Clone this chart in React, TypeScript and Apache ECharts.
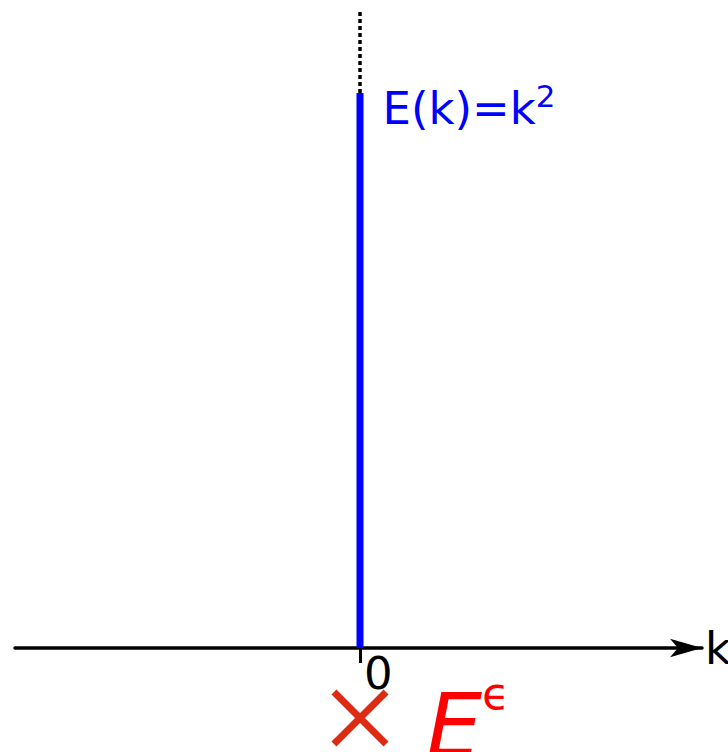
import { useEffect, useRef } from "react";
import * as echarts from "echarts";

// Axis extents (k horizontally, E vertically)
const kRange = [-1.0088, 1];
const energyRange = [0, 1.15];

// Dispersion line E(k)=k² drawn at k = 0 up to the label point, then dashed beyond
const dispersionLine = [
  [0, 0],
  [0, 1],
];
const continuationLine = [
  [0, 1],
  [0, 1.15],
];
const curveLabelPoint = [[0, 1]];

// Pole marker below the k axis
const polePoint = [[0, -0.126]];

// Tick values on the k axis
const kTicks = [0];

const FONT = "DejaVu Sans";

// A filled "×" outline in a 100×100 box
const CROSS_PATH =
  "path://M8.7,0 L100,91.3 L91.3,100 L0,8.7 Z M91.3,0 L100,8.7 L8.7,100 L0,91.3 Z";

export default function App() {
  const ref = useRef<HTMLDivElement>(null);

  useEffect(() => {
    document.body.style.margin = "0";
    if (!ref.current) return;
    const chart = echarts.init(ref.current, null, { renderer: "svg" });
    chart.setOption({
      animation: false,
      backgroundColor: "#ffffff",
      grid: {
        left: 15,
        width: 687,
        top: 9.75,
        height: 638.25,
        containLabel: false,
        outerBoundsMode: "none",
      },
      xAxis: {
        type: "value",
        min: kRange[0],
        max: kRange[1],
        name: "k",
        nameLocation: "end",
        nameGap: 3,
        nameTextStyle: { color: "#000", fontSize: 45, fontFamily: FONT },
        axisLine: {
          onZero: false,
          symbol: ["none", "arrow"],
          symbolSize: [14, 32],
          lineStyle: { color: "#000", width: 3.5 },
        },
        axisTick: {
          show: true,
          customValues: kTicks,
          length: 15,
          lineStyle: { color: "#000", width: 3 },
        },
        axisLabel: {
          show: true,
          customValues: kTicks,
          color: "#000",
          fontSize: 45,
          fontFamily: FONT,
          align: "left",
          margin: 3,
          padding: [0, 0, 0, 4],
        },
        splitLine: { show: false },
      },
      yAxis: {
        type: "value",
        min: energyRange[0],
        max: energyRange[1],
        show: false,
        splitLine: { show: false },
      },
      series: [
        {
          type: "line",
          data: dispersionLine,
          symbol: "none",
          lineStyle: { color: "#0000ff", width: 7, cap: "butt" },
          z: 3,
        },
        {
          type: "line",
          data: continuationLine,
          symbol: "none",
          lineStyle: { color: "#000", width: 3.5, type: [4, 3], cap: "butt" },
          z: 3,
        },
        {
          type: "scatter",
          data: curveLabelPoint,
          symbolSize: 1,
          itemStyle: { color: "transparent", opacity: 1 },
          label: {
            show: true,
            position: "right",
            distance: 22,
            offset: [0, 15],
            formatter: "{main|E(k)=k}{sup|2}",
            rich: {
              main: { color: "#0000ff", fontSize: 45, fontFamily: FONT },
              sup: {
                color: "#0000ff",
                fontSize: 31,
                fontFamily: FONT,
                padding: [0, 0, 24, 0],
              },
            },
          },
          z: 4,
        },
        {
          type: "scatter",
          data: polePoint,
          clip: false,
          symbol: CROSS_PATH,
          symbolSize: 57,
          itemStyle: { color: "#dc2d14", opacity: 1 },
          label: {
            show: true,
            position: "right",
            distance: 38,
            offset: [0, 8],
            formatter: "{e|E}{s|ϵ}",
            rich: {
              e: {
                color: "#ff0000",
                fontSize: 88,
                fontStyle: "italic",
                fontFamily: FONT,
              },
              s: {
                color: "#ff0000",
                fontSize: 45,
                fontFamily: FONT,
                padding: [0, 0, 64, 0],
              },
            },
          },
          z: 4,
        },
      ],
    });
    return () => chart.dispose();
  }, []);

  return <div ref={ref} style={{ width: 728, height: 752 }} />;
}
